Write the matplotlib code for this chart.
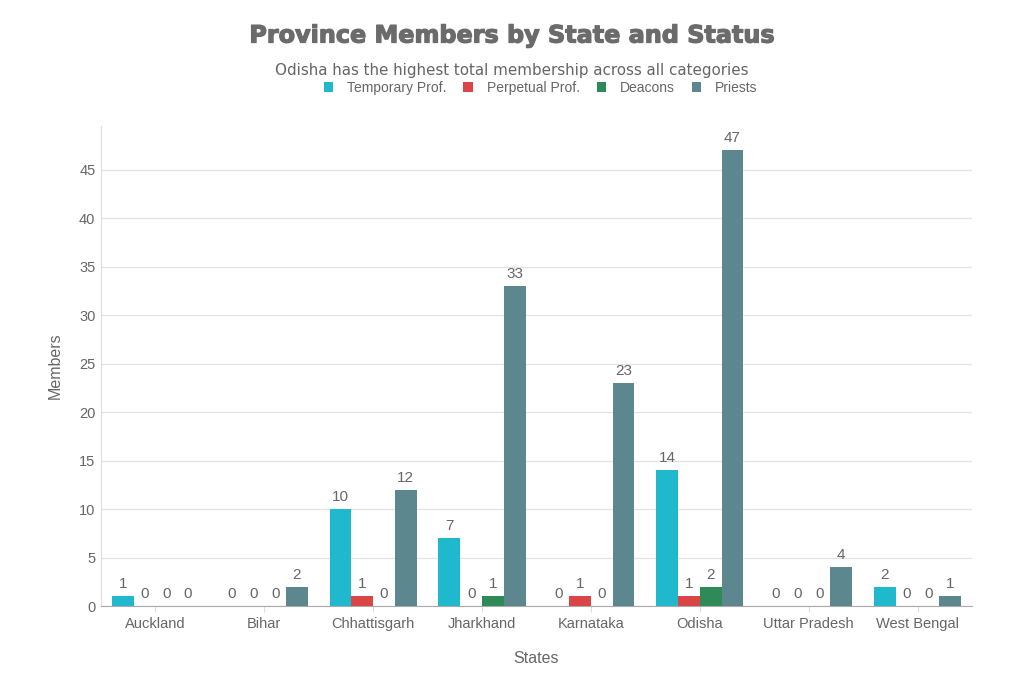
import matplotlib
matplotlib.use("Agg")
import matplotlib.pyplot as plt
import matplotlib.patheffects as pe
import numpy as np

states = ["Auckland", "Bihar", "Chhattisgarh", "Jharkhand", "Karnataka", "Odisha", "Uttar Pradesh", "West Bengal"]
temporary = [1, 0, 10, 7, 0, 14, 0, 2]
perpetual = [0, 0, 1, 0, 1, 1, 0, 0]
deacons = [0, 0, 0, 1, 0, 2, 0, 0]
priests = [0, 2, 12, 33, 23, 47, 4, 1]
series_names = ["Temporary Prof.", "Perpetual Prof.", "Deacons", "Priests"]
colors = ["#1FB8CD", "#DB4545", "#2E8B57", "#5D878F"]

plt.rcParams['font.family'] = ['Liberation Sans', 'DejaVu Sans']
fig = plt.figure(figsize=(10.24, 6.83), dpi=100)
ax = fig.add_axes([0.0986, 0.1127, 0.8506, 0.7028])

x = np.arange(len(states))
w = 0.2
handles = []
for i, (vals, name, c) in enumerate(zip([temporary, perpetual, deacons, priests], series_names, colors)):
    bars = ax.bar(x + (i - 1.5) * w, vals, width=w, color=c, label=name, zorder=3)
    handles.append(bars)
    for xi, v in zip(x + (i - 1.5) * w, vals):
        ax.text(xi, v + 0.5, str(v), ha='center', va='bottom', fontsize=11, color='#666666', zorder=4)

ax.set_xlim(-0.5, 7.5)
ax.set_ylim(0, 49.5)
ax.set_yticks([0, 5, 10, 15, 20, 25, 30, 35, 40, 45])
ax.set_xticks(x)
ax.set_xticklabels(states)
ax.grid(axis='y', color='#e3e3e3', linewidth=0.9, zorder=0)
for s in ['top', 'right']:
    ax.spines[s].set_visible(False)
ax.spines['left'].set_color('#dddddd')
ax.spines['bottom'].set_color('#aaaaaa')
ax.tick_params(axis='y', length=0, labelsize=10.5, labelcolor='#666666', pad=4)
ax.tick_params(axis='x', length=4, color='#dddddd', labelsize=10.5, labelcolor='#666666', pad=4)
ax.set_ylabel("Members", fontsize=11.5, color='#666666', labelpad=12)
ax.set_xlabel("States", fontsize=11.5, color='#666666', labelpad=14)

fig.text(0.5, 0.948, "Province Members by State and Status", ha='center', va='center',
         fontsize=17.2, fontweight='bold', color='#6b6b6b', family='DejaVu Sans',
         path_effects=[pe.withStroke(linewidth=0.9, foreground='#6b6b6b')])
fig.text(0.5, 0.897, "Odisha has the highest total membership across all categories", ha='center', va='center',
         fontsize=10.9, color='#666666', family='DejaVu Sans')
leg = fig.legend(handles=handles, labels=series_names, loc='center', bbox_to_anchor=(0.528, 0.871), ncol=4,
                 frameon=False, fontsize=10, handlelength=0.7, handleheight=0.7, handletextpad=1.0,
                 columnspacing=1.2, labelcolor='#666666')

fig.savefig("out.png", dpi=100)
